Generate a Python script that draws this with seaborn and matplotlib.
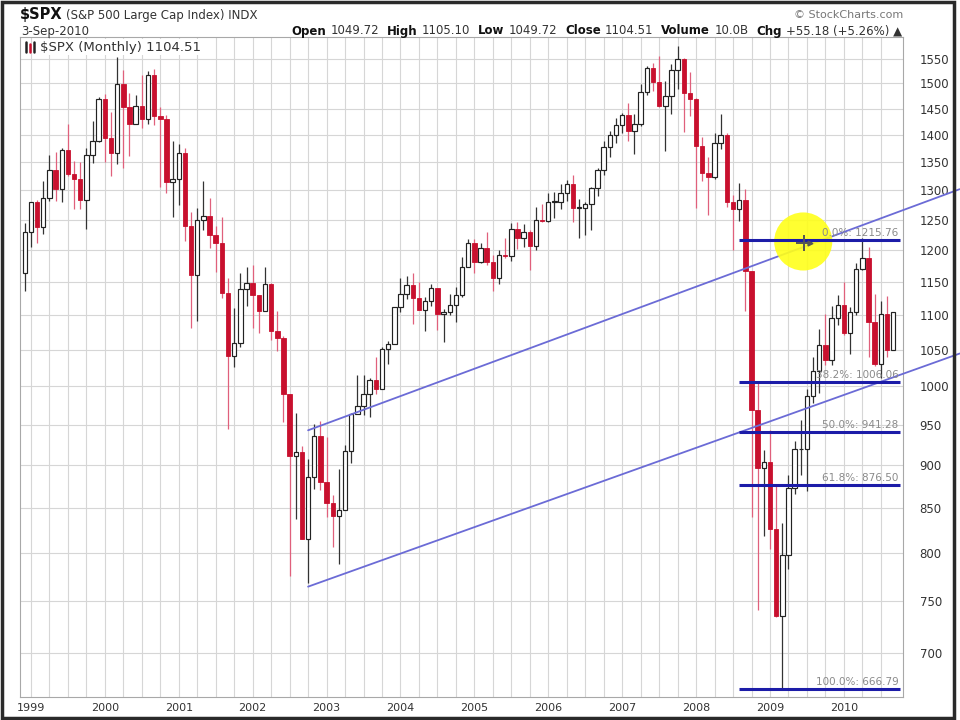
import numpy as np
import pandas as pd
import matplotlib
matplotlib.use("Agg")
import matplotlib.pyplot as plt
import seaborn as sns
from matplotlib.ticker import FixedLocator, NullLocator, FuncFormatter
from matplotlib.lines import Line2D
from matplotlib.patches import Rectangle

# monthly $SPX candles, Dec 1998 .. Sep 2010
months = pd.date_range("1998-12-01", "2010-09-01", freq="MS")

open_ = [
    1163.63,
    1229.23, 1279.64, 1238.33, 1286.37, 1335.18, 1301.84, 1372.71, 1328.72, 1320.41, 1282.71, 1362.93, 1388.91,
    1469.25, 1394.46, 1366.42, 1498.58, 1452.43, 1420.60, 1454.60, 1430.83, 1517.68, 1436.51, 1429.40, 1314.95,
    1320.28, 1366.01, 1239.94, 1160.33, 1249.46, 1255.82, 1224.38, 1211.23, 1133.58, 1040.94, 1059.78, 1139.45,
    1148.08, 1130.20, 1106.73, 1147.39, 1076.92, 1067.14, 989.82, 911.62, 916.07, 815.28, 885.76, 936.31,
    879.82, 855.70, 841.15, 848.18, 916.92, 963.59, 974.50, 990.31, 1008.01, 995.97, 1050.71, 1058.20,
    1111.92, 1131.13, 1144.94, 1126.21, 1107.30, 1120.68, 1140.84, 1101.72, 1104.24, 1114.58, 1130.20, 1173.82,
    1211.92, 1181.27, 1203.60, 1180.59, 1156.85, 1191.50, 1191.33, 1234.18, 1220.33, 1228.81, 1207.01, 1249.48,
    1248.29, 1280.08, 1280.66, 1294.83, 1310.61, 1270.09, 1270.20, 1276.66, 1303.82, 1335.85, 1377.94, 1400.63,
    1418.30, 1438.24, 1406.82, 1420.86, 1482.37, 1530.62, 1503.35, 1455.27, 1473.99, 1526.75, 1549.38, 1481.14,
    1468.36, 1378.55, 1330.63, 1322.70, 1385.59, 1400.38, 1280.00, 1267.38, 1282.83, 1166.36, 968.75, 896.24,
    903.25, 825.88, 735.09, 797.87, 872.81, 919.14, 919.32, 987.48, 1020.62, 1057.08, 1036.19, 1095.63,
    1115.10, 1073.87, 1104.49, 1169.43, 1186.69, 1089.41, 1030.71, 1101.60, 1049.72,
]
high = [
    1244.93,
    1280.37, 1283.75, 1316.55, 1362.80, 1368.00, 1376.00, 1420.33, 1352.02, 1351.00, 1375.00, 1427.00, 1473.00,
    1478.00, 1444.55, 1552.87, 1527.19, 1481.51, 1477.26, 1517.32, 1525.21, 1530.09, 1454.00, 1438.00, 1389.00,
    1383.37, 1376.38, 1263.00, 1269.30, 1315.93, 1286.62, 1239.78, 1255.00, 1155.40, 1110.61, 1163.38, 1173.00,
    1176.55, 1130.20, 1173.00, 1147.84, 1106.59, 1070.00, 989.82, 965.00, 924.00, 907.00, 951.00, 954.28,
    935.05, 864.64, 895.00, 924.24, 965.38, 1015.33, 1015.41, 1011.00, 1040.00, 1053.79, 1063.00, 1112.00,
    1155.38, 1158.98, 1163.23, 1150.57, 1127.74, 1146.18, 1140.84, 1109.00, 1131.54, 1142.05, 1188.46, 1217.33,
    1217.90, 1212.00, 1229.11, 1192.00, 1199.56, 1219.59, 1245.15, 1245.86, 1243.13, 1233.34, 1270.64, 1275.80,
    1294.90, 1297.57, 1310.88, 1318.16, 1326.70, 1285.00, 1280.00, 1306.00, 1340.28, 1389.45, 1407.89, 1431.81,
    1441.61, 1461.57, 1438.89, 1498.02, 1535.56, 1540.56, 1555.90, 1503.89, 1538.74, 1576.09, 1552.76, 1523.57,
    1471.77, 1396.02, 1359.68, 1404.00, 1440.24, 1404.05, 1292.00, 1313.15, 1303.00, 1167.03, 1007.51, 918.85,
    943.85, 875.01, 832.98, 888.70, 930.17, 956.23, 996.68, 1039.47, 1080.15, 1101.36, 1113.69, 1130.38,
    1150.45, 1112.42, 1180.16, 1219.80, 1205.13, 1131.23, 1120.95, 1129.24, 1105.10,
]
low = [
    1136.89,
    1205.46, 1211.89, 1226.24, 1282.00, 1281.00, 1279.00, 1325.00, 1268.00, 1268.00, 1233.70, 1348.00, 1387.00,
    1350.00, 1325.00, 1346.62, 1339.40, 1361.09, 1420.00, 1413.00, 1421.00, 1419.00, 1305.79, 1294.90, 1254.07,
    1274.62, 1215.00, 1081.19, 1091.99, 1232.00, 1203.03, 1165.54, 1124.87, 944.75, 1026.76, 1054.31, 1114.00,
    1081.66, 1074.36, 1106.73, 1063.46, 1048.96, 952.92, 775.68, 837.00, 815.28, 768.63, 872.00, 871.00,
    840.00, 806.29, 788.90, 847.85, 902.83, 963.21, 962.00, 960.00, 990.00, 995.97, 1031.00, 1058.00,
    1105.00, 1124.00, 1087.16, 1107.23, 1076.32, 1113.32, 1078.00, 1060.72, 1101.00, 1090.19, 1127.60, 1173.82,
    1163.75, 1180.00, 1176.00, 1136.15, 1146.18, 1188.00, 1183.00, 1201.07, 1205.35, 1168.20, 1201.00, 1246.00,
    1245.74, 1253.00, 1268.00, 1280.74, 1245.34, 1219.29, 1224.54, 1233.00, 1290.00, 1327.00, 1360.00, 1385.00,
    1403.97, 1389.00, 1363.98, 1416.37, 1476.00, 1484.00, 1454.00, 1370.60, 1439.00, 1489.00, 1406.10, 1435.00,
    1270.05, 1316.00, 1256.98, 1320.00, 1373.00, 1272.00, 1200.44, 1248.00, 1106.39, 839.80, 741.02, 818.69,
    804.30, 734.52, 666.79, 783.32, 866.00, 888.00, 869.32, 978.00, 991.00, 1029.38, 1029.00, 1085.00,
    1071.00, 1044.50, 1101.00, 1169.00, 1040.78, 1028.33, 1010.91, 1039.70, 1049.72,
]
close = [
    1229.23,
    1279.64, 1238.33, 1286.37, 1335.18, 1301.84, 1372.71, 1328.72, 1320.41, 1282.71, 1362.93, 1388.91, 1469.25,
    1394.46, 1366.42, 1498.58, 1452.43, 1420.60, 1454.60, 1430.83, 1517.68, 1436.51, 1429.40, 1314.95, 1320.28,
    1366.01, 1239.94, 1160.33, 1249.46, 1255.82, 1224.38, 1211.23, 1133.58, 1040.94, 1059.78, 1139.45, 1148.08,
    1130.20, 1106.73, 1147.39, 1076.92, 1067.14, 989.82, 911.62, 916.07, 815.28, 885.76, 936.31, 879.82,
    855.70, 841.15, 848.18, 916.92, 963.59, 974.50, 990.31, 1008.01, 995.97, 1050.71, 1058.20, 1111.92,
    1131.13, 1144.94, 1126.21, 1107.30, 1120.68, 1140.84, 1101.72, 1104.24, 1114.58, 1130.20, 1173.82, 1211.92,
    1181.27, 1203.60, 1180.59, 1156.85, 1191.50, 1191.33, 1234.18, 1220.33, 1228.81, 1207.01, 1249.48, 1248.29,
    1280.08, 1280.66, 1294.83, 1310.61, 1270.09, 1270.20, 1276.66, 1303.82, 1335.85, 1377.94, 1400.63, 1418.30,
    1438.24, 1406.82, 1420.86, 1482.37, 1530.62, 1503.35, 1455.27, 1473.99, 1526.75, 1549.38, 1481.14, 1468.36,
    1378.55, 1330.63, 1322.70, 1385.59, 1400.38, 1280.00, 1267.38, 1282.83, 1166.36, 968.75, 896.24, 903.25,
    825.88, 735.09, 797.87, 872.81, 919.14, 919.32, 987.48, 1020.62, 1057.08, 1036.19, 1095.63, 1115.10,
    1073.87, 1104.49, 1169.43, 1186.69, 1089.41, 1030.71, 1101.60, 1049.33, 1104.51,
]

# drawn annotations: two parallel trend lines, fib retracement
trend_months = ["2002-10-01", "2011-07-25"]
trend_upper = [943, 1302]
trend_lower = [765, 1045]
fib_pcts = ["0.0%", "38.2%", "50.0%", "61.8%", "100.0%"]
fib_values = [1215.76, 1006.06, 941.28, 876.50, 666.79]
fib_span = ["2008-08-01", "2010-10-05"]
highlight_month = "2009-06-13"
highlight_value = 1214

y_ticks = list(range(700, 1551, 50))

header_name = "$SPX"
header_desc = "(S&P 500 Large Cap Index) INDX"
header_date = "3-Sep-2010"
quote_fields = [("Open", "1049.72"), ("High", "1105.10"), ("Low", "1049.72"),
                ("Close", "1104.51"), ("Volume", "10.0B"), ("Chg", "+55.18 (+5.26%) \u25b2")]
legend_label = "$SPX (Monthly) 1104.51"

RED = "#c8102e"
WICK_RED = "#e0607c"
INK = "#222222"

sns.set_style("white")
plt.rcParams["font.family"] = ["DejaVu Sans"]

df = pd.DataFrame({"month": months, "open": open_, "high": high, "low": low, "close": close})
df["i"] = np.arange(len(df))
df["up"] = df.close >= df.open
df["bottom"] = df[["open", "close"]].min(axis=1)
df["body"] = (df.close - df.open).abs().clip(lower=1.0)


def month_pos(s):
    # fractional month index relative to the first candle
    d = pd.Timestamp(s)
    return (d.year - 1998) * 12 + (d.month - 12) + (d.day - 1) / 30.0


fig = plt.figure(figsize=(9.6, 7.2), dpi=100)
W, H = 960, 720
ax = fig.add_axes([20 / W, 1 - 697 / H, 883 / W, 660 / H])
ax.set_yscale("log")

up = df.loc[df.up]
dn = df.loc[~df.up]
ax.vlines(up.i, up.low, up.high, color="#333333", lw=0.9, zorder=2)
ax.vlines(dn.i, dn.low, dn.high, color=WICK_RED, lw=0.9, zorder=2)
ax.bar(up.i, up.body, bottom=up.bottom, width=0.72, color="white",
       edgecolor=INK, linewidth=0.85, zorder=3)
ax.bar(dn.i, dn.body, bottom=dn.bottom, width=0.72, color=RED,
       edgecolor=RED, linewidth=0.6, zorder=3)

# trend lines
tx = [month_pos(m) for m in trend_months]
trend_df = pd.DataFrame({
    "x": tx + tx,
    "value": trend_upper + trend_lower,
    "line": ["upper", "upper", "lower", "lower"],
})
sns.lineplot(data=trend_df, x="x", y="value", units="line", estimator=None,
             color="#6b6bd6", lw=1.3, legend=False, ax=ax, clip_on=False, zorder=4)

# highlight marker
hx = month_pos(highlight_month)
ax.scatter([hx], [highlight_value], s=1750, color="#ffff1a", alpha=0.9,
           edgecolor="none", zorder=4.5)

# fib retracement lines
fx0, fx1 = (month_pos(m) for m in fib_span)
for pct, val in zip(fib_pcts, fib_values):
    ax.hlines(val, fx0, fx1, color="#1c1ca8", lw=2.2, zorder=5, clip_on=False)
    ax.annotate(f"{pct}: {val:.2f}", xy=(fx1 - 0.3, val), xytext=(0, 1.5),
                textcoords="offset points", ha="right", va="bottom",
                fontsize=7.5, color="#8a8a8a", zorder=6)

ax.plot([hx + 0.2], [highlight_value * 0.998], marker="+", ms=11, mew=1.4,
        color="#555555", zorder=7)
ax.plot([hx + 1.1], [highlight_value * 0.998], marker=">", ms=3.5,
        color="#555555", zorder=7)

# axes
ax.set_xlim(-0.78, 142.6)
ax.set_ylim(660, 1596)
ax.yaxis.set_major_locator(FixedLocator(y_ticks))
ax.yaxis.set_minor_locator(NullLocator())
ax.yaxis.set_major_formatter(FuncFormatter(lambda v, p: f"{v:.0f}"))
ax.yaxis.tick_right()

year_idx = df.loc[df.month.dt.month == 1, "i"].tolist()
quarter_idx = df.loc[df.month.dt.month.isin([4, 7, 10]), "i"].tolist()
ax.xaxis.set_major_locator(FixedLocator(year_idx))
ax.xaxis.set_minor_locator(FixedLocator(quarter_idx))
ax.set_xticklabels(df.loc[df.month.dt.month == 1, "month"].dt.year.astype(str))

ax.tick_params(axis="y", length=0, pad=12, labelsize=8.5, labelcolor="#333333")
ax.tick_params(axis="x", which="both", length=0, pad=4, labelsize=8, labelcolor="#333333")
ax.grid(True, which="both", axis="x", color="#d6d6d6", lw=0.8)
ax.grid(True, which="major", axis="y", color="#d6d6d6", lw=0.8)
ax.set_axisbelow(True)
ax.set_xlabel("")
ax.set_ylabel("")
for sp in ax.spines.values():
    sp.set_color("#a8a8a8")
    sp.set_linewidth(0.8)

# legend inside plot
ax.text(40 / W, 1 - 47 / H, legend_label, transform=fig.transFigure, fontsize=9.5,
        color="#333333", va="center", ha="left", zorder=8,
        bbox=dict(facecolor="white", edgecolor="none", pad=1.0))
for k, (xx, c) in enumerate([(26, INK), (30, RED), (34, INK)]):
    fig.add_artist(Line2D([xx / W, xx / W], [1 - 52 / H, 1 - 42 / H + (k % 2) * -2 / H],
                          color=c, lw=1.8))

# header
fig.text(20 / W, 1 - 15 / H, header_name, fontsize=10.5, fontweight="bold",
         color="#111111", va="center", ha="left")
fig.text(66 / W, 1 - 15.5 / H, header_desc, fontsize=8.5, color="#333333",
         va="center", ha="left")
fig.text(21 / W, 1 - 31 / H, header_date, fontsize=8.5, color="#333333", va="center", ha="left")
fig.text(903 / W, 1 - 15 / H, "\u00a9 StockCharts.com", fontsize=8, color="#777777",
         va="center", ha="right")

renderer = fig.canvas.get_renderer()
pieces = []
for lab, val in quote_fields:
    t1 = fig.text(0, 1 - 31 / H, lab, fontsize=8.5, fontweight="bold", color="#111111",
                  va="center", ha="left")
    t2 = fig.text(0, 1 - 31 / H, val, fontsize=8.5, color="#333333", va="center", ha="left")
    pieces.append((t1, 4))
    pieces.append((t2, 8))
widths = [t.get_window_extent(renderer).width for t, _ in pieces]
total = sum(widths) + sum(g for _, g in pieces[:-1])
x = 902 - total
for (t, gap), w in zip(pieces, widths):
    t.set_x(x / W)
    x += w + gap

# outer frame of the screenshot
fig.add_artist(Rectangle((1.5 / W, 2 / H), 952 / W, 716 / H, transform=fig.transFigure,
                         fill=False, edgecolor="#2a2a2a", lw=2.5))

fig.savefig("out.png", dpi=100)
